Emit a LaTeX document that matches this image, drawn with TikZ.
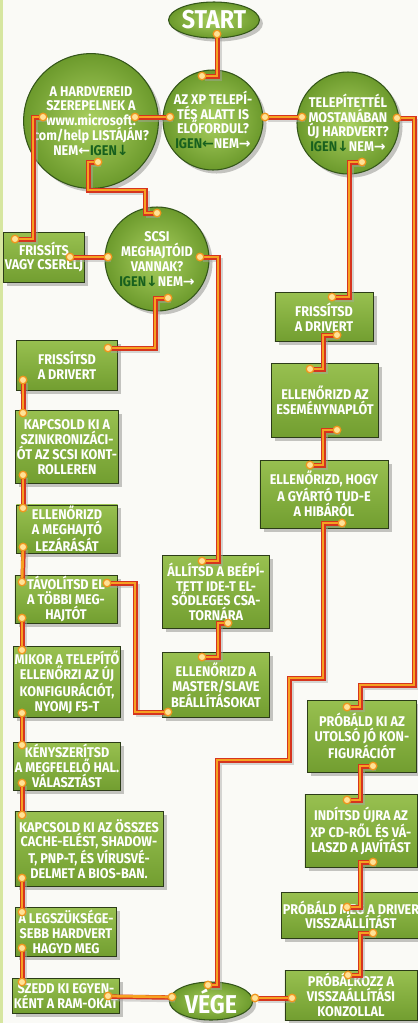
\documentclass[tikz,border=0pt]{standalone}
\usepackage{fontspec}
\newfontfamily\chartfont{Fira Sans}[FakeStretch=0.9]
\newfontfamily\arrowfont{DejaVu Sans}
\usetikzlibrary{shapes.geometric,shadows}
\definecolor{paper}{RGB}{250,250,246}
\definecolor{edgegreen}{RGB}{214,230,160}
\definecolor{boxtop}{RGB}{152,192,80}
\definecolor{boxbottom}{RGB}{114,158,48}
\definecolor{boxedge}{RGB}{44,60,24}
\definecolor{ballin}{RGB}{170,208,96}
\definecolor{ballout}{RGB}{108,154,44}
\definecolor{balledge}{RGB}{52,86,26}
\definecolor{igengreen}{RGB}{24,96,30}
\definecolor{traceorange}{RGB}{246,162,34}
\definecolor{tracered}{RGB}{214,52,30}
\definecolor{padring}{RGB}{240,150,30}
\definecolor{padfill}{RGB}{255,226,150}

\newcommand{\yes}[1]{\textcolor{igengreen}{IGEN{\arrowfont #1}}}
\newcommand{\no}[1]{NEM{\arrowfont #1}}

\pgfdeclarelayer{paperlayer}
\pgfdeclarelayer{padlayer}
\pgfsetlayers{paperlayer,main,padlayer}

\begin{document}
\begin{tikzpicture}[x=0.03cm, y=-0.03cm,
    font=\chartfont\bfseries\fontsize{12}{12.6}\selectfont,
    soft shadow/.style={drop shadow={shadow xshift=3pt, shadow yshift=-3pt,
                        opacity=0.22, fill=black}},
    box/.style={rectangle, draw=boxedge, line width=0.7pt,
                top color=boxtop, bottom color=boxbottom, text=white,
                align=center, inner sep=1pt, soft shadow},
    ask/.style={circle, draw=balledge, line width=0.9pt,
                inner color=ballin, outer color=ballout, text=white,
                align=center, inner sep=0pt, minimum size=3cm, soft shadow},
    term/.style={ellipse, draw=balledge, line width=0.9pt,
                 inner color=ballin, outer color=ballout, text=white,
                 inner sep=0pt, font=\chartfont\bfseries\fontsize{22}{22}\selectfont,
                 soft shadow},
    pad/.style={circle, draw=padring, fill=padfill, line width=1.1pt,
                minimum size=6.5pt, inner sep=0pt},
    trace/.style={draw=traceorange, line width=2.3pt,
                  preaction={draw=black!35, line width=4pt, opacity=0.45,
                             transform canvas={shift={(2.5pt,-2.5pt)}}},
                  preaction={draw=tracered, line width=3.8pt,
                             transform canvas={shift={(0.5pt,-0.5pt)}}}}]

  \useasboundingbox (0,0) rectangle (418,1023);
  \begin{pgfonlayer}{paperlayer}
    \fill[paper] (0,0) rectangle (418,1023);
    \fill[edgegreen] (0,0) rectangle (3,1023);
  \end{pgfonlayer}

  % start, questions, end
  \node[term, minimum width=2.4cm, minimum height=1.08cm] (start) at (214,20) {START};
  \node[ask] (hw) at (91,121) {A HARDVEREID\\SZEREPELNEK A\\www.microsoft.\\com/help LISTÁJÁN?\\\no{←}\yes{↓}};
  \node[ask] (xp) at (213,120) {AZ XP TELEPÍ-\\TÉS ALATT IS\\ELŐFORDUL?\\\yes{←}\no{→}};
  \node[ask, minimum size=3.06cm] (nh) at (348,123) {TELEPÍTETTÉL\\MOSTANÁBAN\\ÚJ HARDVERT?\\\yes{↓}\no{→}};
  \node[ask, minimum size=3.12cm] (scsi) at (157,259) {SCSI\\MEGHAJTÓID\\VANNAK?\\\yes{↓}\no{→}};
  \node[term, minimum width=2.5cm, minimum height=1.14cm] (end) at (211,1001) {VÉGE};

  % left column
  \node[box, minimum width=2.16cm, minimum height=1.5cm] (fix) at (44,257) {FRISSÍTS\\VAGY CSERÉLJ};
  \node[box, minimum width=3.03cm, minimum height=1.5cm] (drvL) at (67,365) {FRISSÍTSD\\A DRIVERT};
  \node[box, minimum width=3.03cm, minimum height=2.19cm] (sync) at (67,447) {KAPCSOLD KI A\\SZINKRONIZÁCI-\\ÓT AZ SCSI KONT-\\ROLLEREN};
  \node[box, minimum width=3.03cm, minimum height=1.44cm] (lock) at (67,529) {ELLENŐRIZD\\A MEGHAJTÓ\\LEZÁRÁSÁT};
  \node[box, minimum width=3.06cm, minimum height=1.44cm] (remove) at (66,599) {TÁVOLÍTSD EL\\A TÖBBI MEG-\\HAJTÓT};
  \node[box, minimum width=3.03cm, minimum height=2.13cm] (setup) at (67,682) {MIKOR A TELEPÍTŐ\\ELLENŐRZI AZ ÚJ\\KONFIGURÁCIÓT,\\NYOMJ F5-T};
  \node[box, minimum width=3.03cm, minimum height=1.44cm] (hal) at (67,766) {KÉNYSZERÍTSD\\A MEGFELELŐ HAL.\\VÁLASZTÁST};
  \node[box, minimum width=4.44cm, minimum height=2.25cm] (bios) at (89,849) {KAPCSOLD KI AZ ÖSSZES\\CACHE-ELÉST, SHADOW-\\T, PNP-T, ÉS VÍRUSVÉ-\\DELMET A BIOS-BAN.};
  \node[box, minimum width=3.03cm, minimum height=1.47cm] (minhw) at (66,932) {A LEGSZÜKSÉGE-\\SEBB HARDVERT\\HAGYD MEG};
  \node[box, minimum width=3.03cm, minimum height=1.05cm] (ram) at (66,996) {SZEDD KI EGYEN-\\KÉNT A RAM-OKAT};

  % middle column
  \node[box, minimum width=3.21cm, minimum height=2.19cm] (ide) at (216,592) {ÁLLÍTSD A BEÉPÍ-\\TETT IDE-T EL-\\SŐDLEGES CSA-\\TORNÁRA};
  \node[box, minimum width=3.21cm, minimum height=1.95cm] (master) at (216,685) {ELLENŐRIZD A\\MASTER/SLAVE\\BEÁLLÍTÁSOKAT};

  % right column
  \node[box, minimum width=2.94cm, minimum height=1.47cm] (drvR) at (324,317) {FRISSÍTSD\\A DRIVERT};
  \node[box, minimum width=3.21cm, minimum height=2.22cm] (evlog) at (325,400) {ELLENŐRIZD AZ\\ESEMÉNYNAPLÓT};
  \node[box, minimum width=3.84cm, minimum height=2.04cm] (vendor) at (324,494) {ELLENŐRIZD, HOGY\\A GYÁRTÓ TUD-E\\A HIBÁRÓL};
  \node[box, minimum width=3.27cm, minimum height=2.16cm] (last) at (362,736) {PRÓBÁLD KI AZ\\UTOLSÓ JÓ KON-\\FIGURÁCIÓT};
  \node[box, minimum width=3.36cm, minimum height=2.19cm] (repair) at (361,831) {INDÍTSD ÚJRA AZ\\XP CD-RŐL ÉS VÁ-\\LASZD A JAVÍTÁST};
  \node[box, minimum width=3.96cm, minimum height=1.38cm] (back) at (351,915) {PRÓBÁLD MEG A DRIVER\\VISSZAÁLLÍTÁST};
  \node[box, minimum width=3.96cm, minimum height=1.5cm] (cons) at (351,995) {PRÓBÁLKOZZ A\\VISSZAÁLLÍTÁSI\\KONZOLLAL};

  % solder pads
  \begin{pgfonlayer}{padlayer}
    \node[pad] (start-s) at (217,34) {};
    \node[pad] (xp-n) at (202,76) {};
    \node[pad] (xp-w) at (170,117) {};
    \node[pad] (xp-e) at (265,117) {};
    \node[pad] (hw-e) at (135,117) {};
    \node[pad] (hw-w) at (43,117) {};
    \node[pad] (hw-s) at (98,162) {};
    \node[pad] (nh-w) at (302,117) {};
    \node[pad] (nh-e) at (397,118) {};
    \node[pad] (nh-s) at (362,162) {};
    \node[pad] (fix-n) at (15,239) {};
    \node[pad] (fix-e) at (70,257) {};
    \node[pad] (scsi-n) at (157,213) {};
    \node[pad] (scsi-w) at (108,257) {};
    \node[pad] (scsi-e) at (200,257) {};
    \node[pad] (scsi-s) at (168,298) {};
    \node[pad] (drvL-e) at (108,348) {};
    \node[pad] (drvL-s) at (23,380) {};
    \node[pad] (sync-n) at (23,413) {};
    \node[pad] (sync-s) at (23,475) {};
    \node[pad] (lock-n) at (23,508) {};
    \node[pad] (lock-s) at (23,547) {};
    \node[pad] (remove-n) at (22,582) {};
    \node[pad] (remove-e) at (107,583) {};
    \node[pad] (remove-s) at (22,618) {};
    \node[pad] (setup-n) at (22,650) {};
    \node[pad] (setup-s) at (22,713) {};
    \node[pad] (hal-n) at (22,745) {};
    \node[pad] (hal-s) at (22,783) {};
    \node[pad] (bios-n) at (22,815) {};
    \node[pad] (bios-s) at (22,878) {};
    \node[pad] (minhw-n) at (22,912) {};
    \node[pad] (minhw-s) at (22,948) {};
    \node[pad] (ram-n) at (22,982) {};
    \node[pad] (ram-e) at (108,996) {};
    \node[pad] (end-w) at (172,997) {};
    \node[pad] (end-n) at (208,985) {};
    \node[pad] (end-e) at (255,998) {};
    \node[pad] (ide-n) at (202,561) {};
    \node[pad] (ide-s) at (228,623) {};
    \node[pad] (master-n) at (202,657) {};
    \node[pad] (master-w) at (168,712) {};
    \node[pad] (drvR-n) at (332,297) {};
    \node[pad] (drvR-s) at (337,335) {};
    \node[pad] (evlog-n) at (310,369) {};
    \node[pad] (evlog-s) at (337,430) {};
    \node[pad] (vendor-n) at (310,465) {};
    \node[pad] (vendor-s) at (342,523) {};
    \node[pad] (last-n) at (347,707) {};
    \node[pad] (last-s) at (373,766) {};
    \node[pad] (repair-n) at (347,800) {};
    \node[pad] (repair-s) at (373,862) {};
    \node[pad] (back-n) at (347,907) {};
    \node[pad] (back-s) at (373,933) {};
    \node[pad] (cons-n) at (348,975) {};
    \node[pad] (cons-w) at (292,998) {};
  \end{pgfonlayer}

  % traces
  \draw[trace] (start-s.center) |- (xp-n.center);
  \draw[trace] (xp-w.center) -- (hw-e.center);
  \draw[trace] (xp-e.center) -- (nh-w.center);
  \draw[trace] (hw-w.center) -| (33,239) -- (fix-n.center);
  \draw[trace] (hw-s.center) -| (88,190) -| (145,213) -- (scsi-n.center);
  \draw[trace] (fix-e.center) -- (scsi-w.center);
  \draw[trace] (scsi-s.center) -| (155,348) -- (drvL-e.center);
  \draw[trace] (scsi-e.center) -| (218,561) -- (ide-n.center);
  \draw[trace] (ide-s.center) -| (218,657) -- (master-n.center);
  \draw[trace] (remove-e.center) -| (135,712) -- (master-w.center);
  \draw[trace] (drvL-s.center) -- (sync-n.center);
  \draw[trace] (sync-s.center) -- (lock-n.center);
  \draw[trace] (lock-s.center) -- (remove-n.center);
  \draw[trace] (remove-s.center) -- (setup-n.center);
  \draw[trace] (setup-s.center) -- (hal-n.center);
  \draw[trace] (hal-s.center) -- (bios-n.center);
  \draw[trace] (bios-s.center) -- (minhw-n.center);
  \draw[trace] (minhw-s.center) -- (ram-n.center);
  \draw[trace] (ram-e.center) -- (end-w.center);
  \draw[trace] (nh-s.center) -| (349,297) -- (drvR-n.center);
  \draw[trace] (drvR-s.center) -| (323,369) -- (evlog-n.center);
  \draw[trace] (evlog-s.center) -| (323,465) -- (vendor-n.center);
  \draw[trace] (vendor-s.center) -| (323,678) -| (289,760) -| (217,985) -- (end-n.center);
  \draw[trace] (nh-e.center) -| (414,685) -| (360,707) -- (last-n.center);
  \draw[trace] (last-s.center) -| (360,800) -- (repair-n.center);
  \draw[trace] (repair-s.center) -| (360,907) -- (back-n.center);
  \draw[trace] (back-s.center) -| (360,975) -- (cons-n.center);
  \draw[trace] (end-e.center) -- (cons-w.center);
\end{tikzpicture}
\end{document}
